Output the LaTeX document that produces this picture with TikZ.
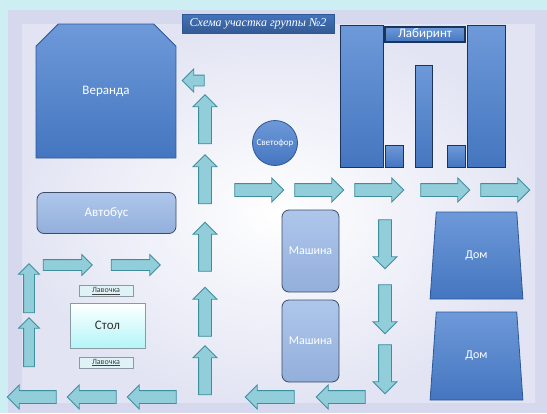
\documentclass[tikz,border=0pt]{standalone}
\usepackage{fontspec}
\setmainfont{Carlito}
\newfontfamily\titlefont{Liberation Serif}
\usepackage{xcolor}
\usetikzlibrary{shapes.arrows,shapes.geometric,shapes.misc}

\definecolor{framecyan}{HTML}{CDEEF2}
\definecolor{frost}{HTML}{D6D9EE}
\definecolor{boxblue}{HTML}{4A80D0}
\definecolor{boxline}{HTML}{2D5896}
\definecolor{paleblue}{HTML}{9AB8E6}
\definecolor{paleline}{HTML}{3E4C66}
\definecolor{arrowfill}{HTML}{92CEDA}
\definecolor{arrowline}{HTML}{3F8E9E}
\definecolor{tablefill}{HTML}{DFF3F7}
\definecolor{tableline}{HTML}{8A9AA0}

\tikzset{
  flow/.style={single arrow,draw=arrowline,fill=arrowfill,line width=0.8pt,
    minimum height=49pt,inner sep=6pt,single arrow head extend=5.5pt,
    single arrow tip angle=90},
  flow up/.style={flow,shape border rotate=90},
  flow down/.style={flow,shape border rotate=270},
  flow left/.style={flow,shape border rotate=180},
  flow right/.style={flow},
  block/.style={draw=boxline,top color=boxblue!80!white,bottom color=boxblue!92!black,
    line width=0.8pt,text=white,inner sep=0pt},
  softblock/.style={draw=paleline,top color=paleblue!80!white,bottom color=paleblue!95!black,
    line width=0.8pt,text=white,rounded corners=7pt,inner sep=0pt},
  bench/.style={draw=tableline,fill=tablefill,line width=0.8pt,minimum width=54pt,
    minimum height=11pt,inner sep=0pt,font=\fontsize{8}{9}\selectfont,text=black!75}
}

\begin{document}
\begin{tikzpicture}[x=1pt,y=-1pt]
\useasboundingbox (0,0) rectangle (547,413);

% background
\fill[framecyan] (0,0) rectangle (547,413);
\fill[frost] (8,10) rectangle (547,413);
\shade[inner color=white,outer color=frost!70] (22,24) rectangle (535,402);

% title
\node[block,top color=boxblue!90!black,bottom color=boxblue!70!black,
      minimum width=152pt,minimum height=19pt,
      font=\titlefont\itshape\fontsize{12}{13}\selectfont] (title) at (258,24)
      {Схема участка группы №2};

% objects
\node[block,chamfered rectangle,chamfered rectangle corners={north west,north east},
      chamfered rectangle sep=17pt,minimum width=140pt,minimum height=134pt,
      font=\fontsize{13}{15}\selectfont] (veranda) at (106,91) {Веранда};
\node[softblock,minimum width=139pt,minimum height=41pt,
      font=\fontsize{13}{15}\selectfont] (bus) at (106.5,213) {Автобус};
\node[block,circle,minimum size=45pt,font=\fontsize{9}{10}\selectfont]
      (svetofor) at (275,143) {Светофор};

% labyrinth
\begin{scope}[every node/.style={block,draw=boxline!60!black}]
  \node[minimum width=43pt,minimum height=142pt] (labL) at (361.5,96) {};
  \node[minimum width=80pt,minimum height=15pt,line width=1.6pt,
        font=\fontsize{13}{14}\selectfont] (labtop) at (425,34.5) {Лабиринт};
  \node[minimum width=18pt,minimum height=22pt] (labS1) at (394,156) {};
  \node[minimum width=17pt,minimum height=102pt] (labM) at (423.5,116) {};
  \node[minimum width=18pt,minimum height=22pt] (labS2) at (456,156) {};
  \node[minimum width=38pt,minimum height=142pt] (labR) at (486,96) {};
\end{scope}

% cars and houses
\node[softblock,minimum width=57pt,minimum height=82pt,
      font=\fontsize{12}{14}\selectfont] (car1) at (310.5,251) {Машина};
\node[softblock,minimum width=57pt,minimum height=82pt,
      font=\fontsize{12}{14}\selectfont] (car2) at (310.5,341) {Машина};
\node[block,trapezium,trapezium angle=80,trapezium stretches=true,
      minimum width=93pt,minimum height=87pt,font=\fontsize{12}{14}\selectfont]
      (dom1) at (476.5,255.5) {Дом};
\node[block,trapezium,trapezium angle=80,trapezium stretches=true,
      minimum width=93pt,minimum height=88pt,font=\fontsize{12}{14}\selectfont]
      (dom2) at (476.5,356) {Дом};

% table and benches
\node[draw=tableline,top color=white,bottom color=tablefill!80!cyan,line width=1pt,
      minimum width=75pt,minimum height=45pt,font=\fontsize{13}{15}\selectfont,
      text=black!80] (stol) at (107.5,325.5) {Стол};
\node[bench] (bench1) at (106,291) {\underline{Лавочка}};
\node[bench] (bench2) at (106,362.5) {\underline{Лавочка}};

% path arrows
\node[flow left,minimum height=22pt,inner sep=5pt,single arrow head extend=6pt]
      (back) at (196,80.5) {};
\foreach \y [count=\i] in {122.5,182.5,250,315,373.5}
  \node[flow up] (up\i) at (205,\y) {};
\foreach \x [count=\i] in {256,316,376,442,502}
  \node[flow right] (right\i) at (\x,190) {};
\foreach \y [count=\i] in {241,306,366}
  \node[flow down] (down\i) at (385,\y) {};
\foreach \x [count=\i] in {35,95,155,273,344}
  \node[flow left] (bottom\i) at (\x,397) {};
\foreach \y [count=\i] in {291,345}
  \node[flow up,inner sep=5pt,single arrow head extend=5pt] (side\i) at (29,\y) {};
\foreach \x [count=\i] in {65,133}
  \node[flow right,inner sep=5pt,single arrow head extend=5pt] (top\i) at (\x,265) {};

\end{tikzpicture}
\end{document}
